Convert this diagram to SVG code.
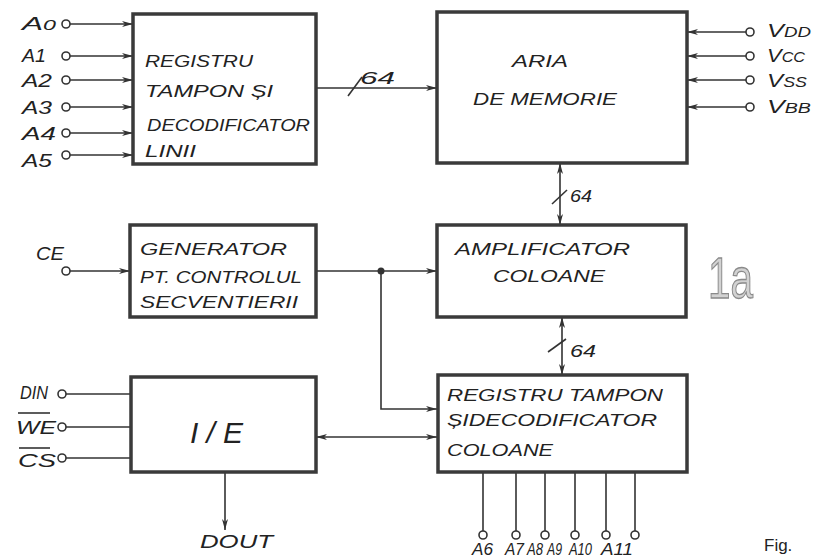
<svg xmlns="http://www.w3.org/2000/svg" width="815" height="558" viewBox="0 0 815 558">
<style>
.box{fill:#fff;stroke:#3a3a3a;stroke-width:3.5}
.ln{fill:none;stroke:#333;stroke-width:1.6}
.pin{fill:#fff;stroke:#333;stroke-width:1.6}
.t{font-family:"Liberation Sans",Arial,sans-serif;font-style:italic;font-size:17px;fill:#222}
.lb{font-family:"Liberation Sans",Arial,sans-serif;font-style:italic;font-size:19px;fill:#222}
.sm{font-size:14px}
</style>
<defs>
<marker id="ar" markerUnits="userSpaceOnUse" markerWidth="12" markerHeight="8" refX="11" refY="4" orient="auto-start-reverse">
<path d="M0,1 L11,4 L0,7 L3,4 z" fill="#333"/>
</marker>
</defs>
<rect width="815" height="558" fill="#fff"/>

<g id="connectors">
<line class="ln" x1="70" y1="24" x2="133" y2="24" marker-end="url(#ar)"/>
<line class="ln" x1="70" y1="56" x2="133" y2="56" marker-end="url(#ar)"/>
<line class="ln" x1="70" y1="80" x2="133" y2="80" marker-end="url(#ar)"/>
<line class="ln" x1="70" y1="107" x2="133" y2="107" marker-end="url(#ar)"/>
<line class="ln" x1="70" y1="133" x2="133" y2="133" marker-end="url(#ar)"/>
<line class="ln" x1="70" y1="155" x2="133" y2="155" marker-end="url(#ar)"/>
<line class="ln" x1="316" y1="88" x2="437" y2="88" marker-end="url(#ar)"/>
<line class="ln" x1="348" y1="96" x2="362" y2="77"/>
<line class="ln" x1="746" y1="32" x2="687" y2="32" marker-end="url(#ar)"/>
<line class="ln" x1="746" y1="56" x2="687" y2="56" marker-end="url(#ar)"/>
<line class="ln" x1="746" y1="80" x2="687" y2="80" marker-end="url(#ar)"/>
<line class="ln" x1="746" y1="107" x2="687" y2="107" marker-end="url(#ar)"/>
<line class="ln" x1="560" y1="163" x2="560" y2="225" marker-start="url(#ar)" marker-end="url(#ar)"/>
<line class="ln" x1="552" y1="204" x2="567" y2="190"/>
<line class="ln" x1="562" y1="317" x2="562" y2="375" marker-start="url(#ar)" marker-end="url(#ar)"/>
<line class="ln" x1="548" y1="352" x2="566" y2="339"/>
<line class="ln" x1="70" y1="271" x2="130" y2="271" marker-end="url(#ar)"/>
<line class="ln" x1="316" y1="271" x2="437" y2="271" marker-end="url(#ar)"/>
<polyline class="ln" points="381,271 381,409 437,409" marker-end="url(#ar)"/>
<circle cx="381" cy="271" r="3.5" fill="#333"/>
<line class="ln" x1="66" y1="394" x2="131" y2="394"/>
<line class="ln" x1="66" y1="427" x2="131" y2="427"/>
<line class="ln" x1="66" y1="458" x2="131" y2="458"/>
<line class="ln" x1="316" y1="437" x2="437" y2="437" marker-start="url(#ar)" marker-end="url(#ar)"/>
<line class="ln" x1="225" y1="472" x2="225" y2="530" marker-end="url(#ar)"/>
<line class="ln" x1="483" y1="472" x2="483" y2="531"/>
<line class="ln" x1="516" y1="472" x2="516" y2="531"/>
<line class="ln" x1="545" y1="472" x2="545" y2="531"/>
<line class="ln" x1="575" y1="472" x2="575" y2="531"/>
<line class="ln" x1="606" y1="472" x2="606" y2="531"/>
<line class="ln" x1="635" y1="472" x2="635" y2="531"/>
</g>

<g id="pins">
<circle class="pin" cx="66" cy="24" r="4"/>
<circle class="pin" cx="66" cy="56" r="4"/>
<circle class="pin" cx="66" cy="80" r="4"/>
<circle class="pin" cx="66" cy="107" r="4"/>
<circle class="pin" cx="66" cy="133" r="4"/>
<circle class="pin" cx="66" cy="155" r="4"/>
<circle class="pin" cx="750" cy="32" r="4"/>
<circle class="pin" cx="750" cy="56" r="4"/>
<circle class="pin" cx="750" cy="80" r="4"/>
<circle class="pin" cx="750" cy="107" r="4"/>
<circle class="pin" cx="66" cy="271" r="4"/>
<circle class="pin" cx="62" cy="394" r="4"/>
<circle class="pin" cx="62" cy="427" r="4"/>
<circle class="pin" cx="62" cy="458" r="4"/>
<circle class="pin" cx="483" cy="535" r="4"/>
<circle class="pin" cx="516" cy="535" r="4"/>
<circle class="pin" cx="545" cy="535" r="4"/>
<circle class="pin" cx="575" cy="535" r="4"/>
<circle class="pin" cx="606" cy="535" r="4"/>
<circle class="pin" cx="635" cy="535" r="4"/>
</g>

<g id="labels">
<text class="lb" x="22" y="30" textLength="34" lengthAdjust="spacingAndGlyphs">A<tspan class="sm">0</tspan></text>
<text class="lb" x="22" y="62" textLength="24" lengthAdjust="spacingAndGlyphs">A1</text>
<text class="lb" x="22" y="87" textLength="30" lengthAdjust="spacingAndGlyphs">A2</text>
<text class="lb" x="22" y="114" textLength="30" lengthAdjust="spacingAndGlyphs">A3</text>
<text class="lb" x="22" y="140" textLength="34" lengthAdjust="spacingAndGlyphs">A4</text>
<text class="lb" x="22" y="167" textLength="30" lengthAdjust="spacingAndGlyphs">A5</text>
<text class="lb" x="767" y="37" textLength="44" lengthAdjust="spacingAndGlyphs">V<tspan class="sm">DD</tspan></text>
<text class="lb" x="767" y="62" textLength="38" lengthAdjust="spacingAndGlyphs">V<tspan class="sm">CC</tspan></text>
<text class="lb" x="767" y="87" textLength="40" lengthAdjust="spacingAndGlyphs">V<tspan class="sm">SS</tspan></text>
<text class="lb" x="767" y="113" textLength="44" lengthAdjust="spacingAndGlyphs">V<tspan class="sm">BB</tspan></text>
<text class="t" x="360" y="84" textLength="35" lengthAdjust="spacingAndGlyphs">64</text>
<text class="t" x="570" y="202" textLength="22" lengthAdjust="spacingAndGlyphs">64</text>
<text class="t" x="570" y="357" textLength="26" lengthAdjust="spacingAndGlyphs">64</text>
<text class="lb" x="36" y="260" textLength="28" lengthAdjust="spacingAndGlyphs">CE</text>
<text class="lb" x="20" y="399" textLength="28" lengthAdjust="spacingAndGlyphs">DIN</text>
<text class="lb" x="16" y="434" textLength="40" lengthAdjust="spacingAndGlyphs">WE</text>
<line class="ln" x1="18" y1="413" x2="50" y2="413"/>
<text class="lb" x="18" y="467" textLength="38" lengthAdjust="spacingAndGlyphs">CS</text>
<line class="ln" x1="19" y1="448" x2="50" y2="448"/>
<text class="lb" x="200" y="548" textLength="73" lengthAdjust="spacingAndGlyphs">DOUT</text>
<text class="t" x="472" y="555" textLength="21" lengthAdjust="spacingAndGlyphs">A6</text>
<text class="t" x="505" y="555" textLength="19" lengthAdjust="spacingAndGlyphs">A7</text>
<text class="t" x="527" y="555" textLength="16" lengthAdjust="spacingAndGlyphs">A8</text>
<text class="t" x="547" y="555" textLength="15" lengthAdjust="spacingAndGlyphs">A9</text>
<text class="t" x="569" y="555" textLength="23" lengthAdjust="spacingAndGlyphs">A10</text>
<text class="t" x="601" y="555" textLength="32" lengthAdjust="spacingAndGlyphs">A11</text>
<text x="708" y="298" font-family="Liberation Sans,Arial,sans-serif" font-size="57" fill="#d2d2d2" stroke="#8a8a8a" stroke-width="1.3" textLength="45" lengthAdjust="spacingAndGlyphs">1a</text>
<text x="764" y="551" font-family="Liberation Sans,Arial,sans-serif" font-size="17" fill="#222">Fig.</text>
</g>

<g id="registru-linii">
<rect class="box" x="133" y="14" width="183" height="150"/>
<text class="t" x="145" y="67" textLength="108" lengthAdjust="spacingAndGlyphs">REGISTRU</text>
<text class="t" x="145" y="97" textLength="128" lengthAdjust="spacingAndGlyphs">TAMPON ȘI</text>
<text class="t" x="147" y="131" textLength="163" lengthAdjust="spacingAndGlyphs">DECODIFICATOR</text>
<text class="t" x="145" y="157" textLength="51" lengthAdjust="spacingAndGlyphs">LINII</text>
</g>

<g id="aria-memorie">
<rect class="box" x="437" y="12" width="250" height="151"/>
<text class="t" x="512" y="67" textLength="56" lengthAdjust="spacingAndGlyphs">ARIA</text>
<text class="t" x="473" y="105" textLength="144" lengthAdjust="spacingAndGlyphs">DE MEMORIE</text>
</g>

<g id="amplificator">
<rect class="box" x="437" y="225" width="249" height="92"/>
<text class="t" x="455" y="255" textLength="175" lengthAdjust="spacingAndGlyphs">AMPLIFICATOR</text>
<text class="t" x="493" y="282" textLength="112" lengthAdjust="spacingAndGlyphs">COLOANE</text>
</g>

<g id="generator">
<rect class="box" x="130" y="225" width="186" height="92"/>
<text class="t" x="140" y="255" textLength="147" lengthAdjust="spacingAndGlyphs">GENERATOR</text>
<text class="t" x="140" y="283" textLength="162" lengthAdjust="spacingAndGlyphs">PT. CONTROLUL</text>
<text class="t" x="140" y="308" textLength="158" lengthAdjust="spacingAndGlyphs">SECVENTIERII</text>
</g>

<g id="ie">
<rect class="box" x="131" y="377" width="185" height="95"/>
<text class="t" x="190" y="443" style="font-size:30px" textLength="53" lengthAdjust="spacing">I/E</text>
</g>

<g id="registru-coloane">
<rect class="box" x="438" y="375" width="249" height="97"/>
<text class="t" x="447" y="401" textLength="216" lengthAdjust="spacingAndGlyphs">REGISTRU TAMPON</text>
<text class="t" x="447" y="426" textLength="210" lengthAdjust="spacingAndGlyphs">ȘIDECODIFICATOR</text>
<text class="t" x="447" y="456" textLength="106" lengthAdjust="spacingAndGlyphs">COLOANE</text>
</g>
</svg>
